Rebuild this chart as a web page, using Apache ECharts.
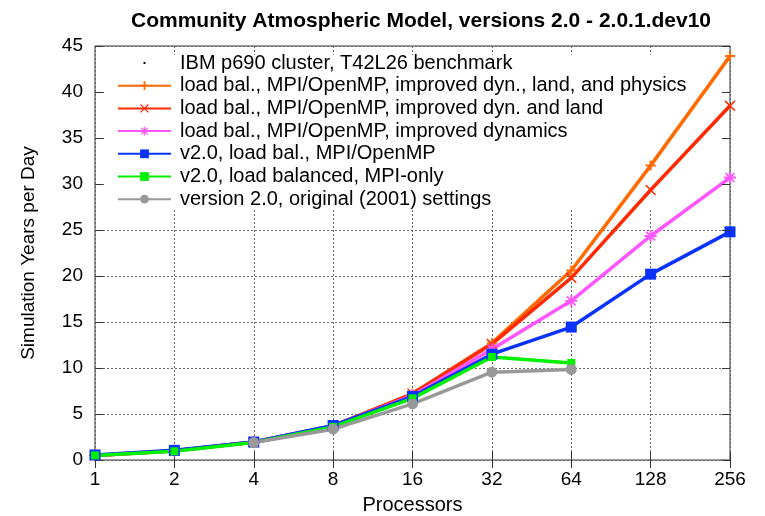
<!DOCTYPE html>
<html>
<head>
<meta charset="utf-8">
<script src="https://cdn.jsdelivr.net/npm/echarts@6/dist/echarts.min.js"></script>
<style>html,body{margin:0;padding:0;background:#fff}#c{width:765px;height:516px}</style>
</head>
<body>
<div id="c"></div>
<script>
const processors = ['1', '2', '4', '8', '16', '32', '64', '128', '256'];
const ibmLabel = 'IBM p690 cluster, T42L26 benchmark';
const nameOrange = 'load bal., MPI/OpenMP, improved dyn., land, and physics';
const nameRed = 'load bal., MPI/OpenMP, improved dyn. and land';
const namePink = 'load bal., MPI/OpenMP, improved dynamics';
const nameBlue = 'v2.0, load bal., MPI/OpenMP';
const nameGreen = 'v2.0, load balanced, MPI-only';
const nameGray = 'version 2.0, original (2001) settings';
const valOrange = [0.5, 1.0, 1.95, 3.7, 7.2, 12.7, 20.6, 32.0, 43.9];
const valRed = [0.5, 1.0, 1.95, 3.7, 7.2, 12.6, 19.8, 29.35, 38.5];
const valPink = [0.5, 1.0, 1.95, 3.7, 7.0, 12.05, 17.3, 24.35, 30.7];
const valBlue = [0.55, 1.05, 1.95, 3.75, 6.9, 11.5, 14.45, 20.2, 24.8];
const valGreen = [0.5, 0.95, 1.9, 3.6, 6.7, 11.2, 10.55];
const valGray = [null, null, 1.9, 3.35, 6.1, 9.55, 9.85];
const yMin = 0, yMax = 45, yStep = 5;

const FONT = 'Liberation Sans';
const PLUS = 'path://M4,0H6V4H10V6H6V10H4V6H0V4H4Z';
const CROSS = 'path://M0,1L1,0L10,9L9,10ZM9,0L10,1L1,10L0,9Z';
const STAR = 'path://M4.2,0H5.8V4.2H10V5.8H5.8V10H4.2V5.8H0V4.2H4.2ZM0.8,1.8L1.8,0.8L9.2,8.2L8.2,9.2ZM8.2,0.8L9.2,1.8L1.8,9.2L0.8,8.2Z';
const DOT = 'path://M0,0M53,11M25.5,4.5h2v2h-2z';

function mk(name, data, color, symbol, size) {
  return {
    type: 'line', name: name, data: data, color: color,
    symbol: symbol, symbolSize: size, showSymbol: true,
    lineStyle: { width: 3.5, color: color },
    itemStyle: { color: color, borderWidth: 0 },
    emphasis: { disabled: true }, z: 2
  };
}

const chart = echarts.init(document.getElementById('c'), null, { renderer: 'canvas' });
const splitStyle = { show: true, lineStyle: { color: '#666', width: 1, type: [2, 2] } };
chart.setOption({
  animation: false,
  backgroundColor: '#fff',
  textStyle: { fontFamily: FONT },
  title: {
    text: 'Community Atmospheric Model, versions 2.0 - 2.0.1.dev10',
    left: 416, top: 6, textAlign: 'center',
    textStyle: { fontFamily: FONT, fontSize: 21, fontWeight: 'bold', color: '#000' }
  },
  grid: { left: 95, right: 35, top: 46, bottom: 56, containLabel: false, outerBoundsMode: 'none', show: true, borderColor: '#333', borderWidth: 1, backgroundColor: 'transparent' },
  legend: {
    orient: 'vertical', left: 117, top: 53, padding: 0, itemGap: 2.7,
    itemWidth: 53, itemHeight: 11,
    textStyle: { fontFamily: FONT, fontSize: 20, color: '#000', padding: [0, 0, 0, 4] },
    data: [
      { name: ibmLabel, icon: DOT },
      nameOrange, nameRed, namePink, nameBlue, nameGreen, nameGray
    ],
    selectedMode: false, z: 4
  },
  graphic: [{
    type: 'rect', z: 1, silent: true,
    shape: { x: 104, y: 55, width: 618, height: 155 },
    style: { fill: '#fff' }
  }],
  xAxis: [{
    type: 'category', data: processors, boundaryGap: false, position: 'bottom',
    name: 'Processors', nameLocation: 'middle', nameGap: 35,
    nameTextStyle: { fontFamily: FONT, fontSize: 20, color: '#000' },
    axisLine: { show: false },
    axisTick: { show: true, inside: true, length: 8, lineStyle: { color: '#333' } },
    axisLabel: { fontFamily: FONT, fontSize: 19, color: '#000', margin: 10 },
    splitLine: Object.assign({ interval: 0 }, splitStyle), z: 0
  }, {
    type: 'category', data: processors, boundaryGap: false, position: 'top',
    axisLine: { show: false },
    axisTick: { show: true, inside: true, length: 8, lineStyle: { color: '#333' } },
    axisLabel: { show: false }, splitLine: { show: false }, z: 3
  }],
  yAxis: [{
    type: 'value', min: yMin, max: yMax, interval: yStep, position: 'left',
    name: 'Simulation Years per Day', nameLocation: 'middle', nameGap: 57,
    nameTextStyle: { fontFamily: FONT, fontSize: 19, color: '#000' },
    axisLine: { show: false },
    axisTick: { show: true, inside: true, length: 8, lineStyle: { color: '#333' } },
    axisLabel: { fontFamily: FONT, fontSize: 19, color: '#000', margin: 12 },
    splitLine: splitStyle, z: 0
  }, {
    type: 'value', min: yMin, max: yMax, interval: yStep, position: 'right',
    axisLine: { show: false },
    axisTick: { show: true, inside: true, length: 8, lineStyle: { color: '#333' } },
    axisLabel: { show: false }, splitLine: { show: false }, z: 3
  }],
  series: [
    { type: 'line', name: ibmLabel, data: [], color: '#000', symbol: 'none', lineStyle: { width: 0, opacity: 0 }, itemStyle: { color: '#000' } },
    mk(nameOrange, valOrange, '#ff6a00', PLUS, 10),
    mk(nameRed, valRed, '#ff2a00', CROSS, 11),
    mk(namePink, valPink, '#ff55ff', STAR, 12),
    mk(nameBlue, valBlue, '#0a32ff', 'rect', 11),
    mk(nameGreen, valGreen, '#00f000', 'rect', 8),
    mk(nameGray, valGray, '#999999', 'circle', 11)
  ]
});
</script>
</body>
</html>
